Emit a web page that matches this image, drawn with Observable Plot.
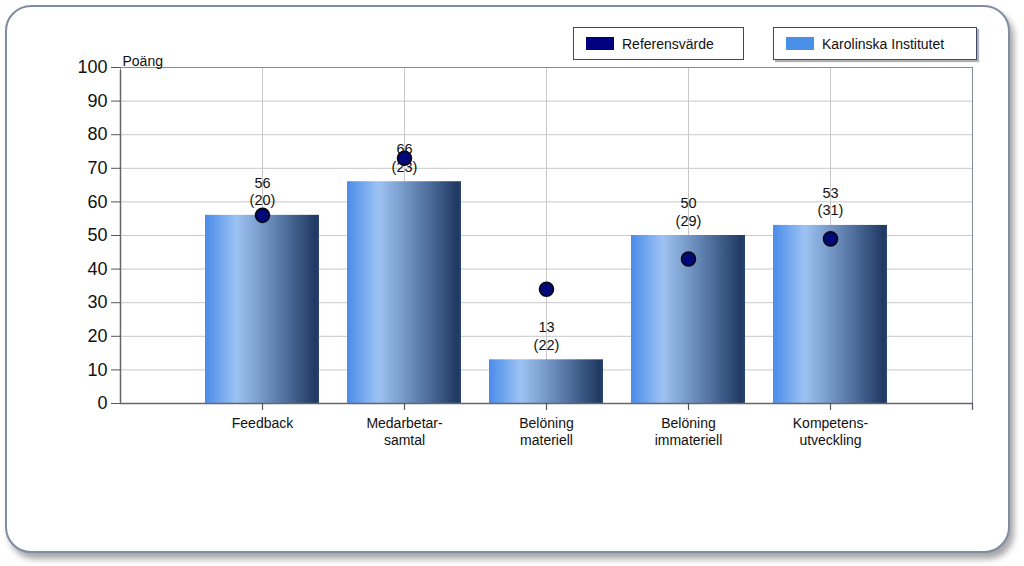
<!DOCTYPE html>
<html><head><meta charset="utf-8">
<script src="https://cdn.jsdelivr.net/npm/d3@7"></script>
<script src="https://cdn.jsdelivr.net/npm/@observablehq/plot@0.6"></script>
<style>
body{margin:0;background:#fff;font-family:"Liberation Sans",Arial,sans-serif;}
#wrap{position:relative;width:1024px;height:566px;overflow:hidden;}
#panel{position:absolute;left:5px;top:5px;width:1001px;height:544px;border:2px solid #7f8da3;border-radius:26px;box-shadow:4px 6px 6px rgba(0,0,0,0.35);background:#fff;}
#chart{position:absolute;left:0;top:0;}
.leg{position:absolute;top:27px;height:33px;border:1px solid #3c4a66;background:#fff;font-size:14px;color:#111;display:flex;align-items:center;box-sizing:border-box;}
.sw{width:28px;height:13px;margin:0 8px 0 12px;}
</style></head>
<body><div id="wrap"><div id="panel"></div><div id="chart"></div>
<div class="leg" style="left:573px;width:171px;"><div class="sw" style="background:#000080"></div>Referensvärde</div>
<div class="leg" style="left:773px;width:204px;box-shadow:2px 2px 1px rgba(0,0,0,0.3);"><div class="sw" style="background:#4a90e8"></div>Karolinska Institutet</div>
</div>
<script>
const categories = ["Feedback", "Medarbetar-\nsamtal", "Belöning\nmateriell", "Belöning\nimmateriell", "Kompetens-\nutveckling"];
const karolinska = [56, 66, 13, 50, 53];
const counts = [20, 23, 22, 29, 31];
const referens = [56, 73, 34, 43, 49];
const yTicks = [0,10,20,30,40,50,60,70,80,90,100];

const data = categories.map((c, k) => ({i: k + 1, label: c, value: karolinska[k], n: counts[k], ref: referens[k]}));

const defs = () => {
  const d = d3.create("svg:defs");
  const g = d.append("linearGradient").attr("id", "barGrad").attr("x1", "0").attr("x2", "1").attr("y1", "0").attr("y2", "0");
  g.append("stop").attr("offset", "0").attr("stop-color", "#4a8cea");
  g.append("stop").attr("offset", "0.28").attr("stop-color", "#9dc3f3");
  g.append("stop").attr("offset", "0.6").attr("stop-color", "#6385b4");
  g.append("stop").attr("offset", "0.97").attr("stop-color", "#1f3962");
  g.append("stop").attr("offset", "1").attr("stop-color", "#2a4470");
  return d.node();
};

const chart = Plot.plot({
  width: 1024, height: 566,
  marginLeft: 120, marginRight: 52, marginTop: 67, marginBottom: 163,
  style: {background: "transparent", fontFamily: "'Liberation Sans', Arial, sans-serif", color: "#111"},
  x: {type: "linear", domain: [0, 6], axis: null},
  y: {type: "linear", domain: [0, 100], axis: null},
  marks: [
    defs,
    Plot.gridY(yTicks, {stroke: "#c8c8c8", strokeOpacity: 1}),
    Plot.gridX([1,2,3,4,5], {stroke: "#c8c8c8", strokeOpacity: 1}),
    Plot.frame({stroke: "#7f8a9c"}),
    Plot.rectY(data, {x1: d => d.i - 0.5, x2: d => d.i + 0.5, y: "value", insetLeft: 14, insetRight: 14, fill: "url(#barGrad)"}),
    Plot.text(data, {x: "i", y: "value", text: d => `${d.value}\n(${d.n})`, lineAnchor: "bottom", dy: -10, fontSize: 14.5, lineHeight: 1.2, fill: "#111"}),
    Plot.dot(data, {x: "i", y: "ref", r: 7, fill: "#00087a", stroke: "#050510", strokeWidth: 1.6}),
    Plot.ruleY([0], {stroke: "#666", strokeWidth: 1.5}),
    Plot.ruleX([0], {stroke: "#666", strokeWidth: 1.5, y1: 0, y2: 100, insetBottom: -3}),
    Plot.ruleX([1,2,3,4,5,6], {x: d => d, y1: 0, y2: 0, insetBottom: -7, stroke: "#555", strokeWidth: 1.2}),
    Plot.axisY(yTicks, {tickSize: 9, tickPadding: 4, fontSize: 18, stroke: "#555", fill: "#111", label: null}),
    Plot.text(data, {x: "i", y: 0, text: "label", lineAnchor: "top", dy: 13, fontSize: 14, lineHeight: 1.2, fill: "#111"}),
    Plot.text(["Poäng"], {frameAnchor: "top-left", textAnchor: "start", lineAnchor: "bottom", dx: 2, dy: -2, fontSize: 14, fill: "#111"})
  ]
});
document.getElementById("chart").append(chart);
</script>
</body></html>
